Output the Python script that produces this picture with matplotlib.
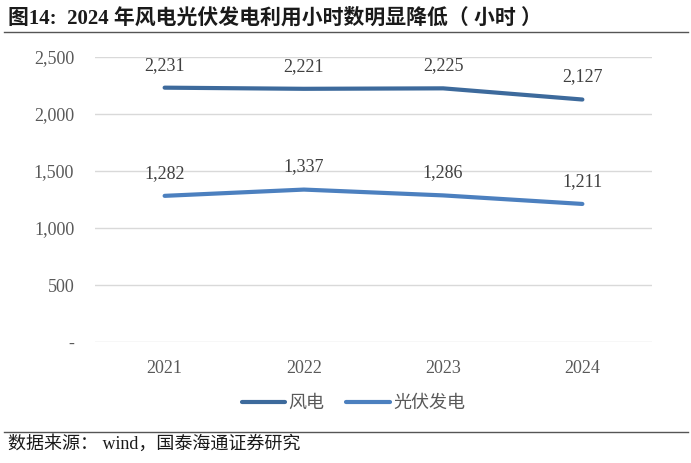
import matplotlib.pyplot as plt
from matplotlib.ticker import FuncFormatter

years = ['2021', '2022', '2023', '2024']
wind = [2231, 2221, 2225, 2127]
solar = [1282, 1337, 1286, 1211]

serif = ['Liberation Serif', 'Noto Sans CJK SC']

fig = plt.figure(figsize=(6.91, 4.63), dpi=100)
ax = fig.add_axes([95/691, 1 - 342/463, 557/691, 285/463])

x = range(len(years))
ax.plot(x, wind, color='#3D6A9C', lw=3, solid_capstyle='round', label='风电')
ax.plot(x, solar, color='#4C80BF', lw=3, solid_capstyle='round', label='光伏发电')

for series in (wind, solar):
    for xi, v in zip(x, series):
        ax.annotate(f'{v:,}', (xi, v), xytext=(0, 13), textcoords='offset points',
                    ha='center', fontsize=13, color='#404040', family=serif)

ax.set_xlim(-0.5, 3.5)
ax.set_ylim(0, 2500)
ax.set_yticks(range(0, 2501, 500))
ax.yaxis.set_major_formatter(FuncFormatter(lambda v, p: '-' if v == 0 else f'{int(v):,}'))
ax.set_xticks(list(x))
ax.set_xticklabels(years)
ax.grid(axis='y', color='#D9D9D9', lw=1)
ax.set_axisbelow(True)
for s in ax.spines.values():
    s.set_visible(False)
ax.tick_params(length=0, labelsize=13, labelcolor='#595959', pad=13)
ax.tick_params(axis='y', pad=15)
for lab in ax.get_xticklabels() + ax.get_yticklabels():
    lab.set_family(serif)

leg = ax.legend(loc='center', bbox_to_anchor=(0.464, -0.215), ncol=2, frameon=False,
                prop={'family': ['Noto Sans CJK SC'], 'size': 13}, handlelength=2.4,
                columnspacing=1.2, handletextpad=0.2)
for t in leg.get_texts():
    t.set_color('#595959')

fig.text(8/691, 1 - 18/463, '图14:  2024 年风电光伏发电利用小时数明显降低（ 小时 ）', fontsize=15,
         fontweight='bold', family=serif, va='center', color='#1a1a1a')
fig.add_artist(plt.Line2D([4/691, 688/691], [1 - 32/463, 1 - 32/463], color='#555555', lw=1))
fig.add_artist(plt.Line2D([4/691, 688/691], [1 - 432/463, 1 - 432/463], color='#555555', lw=1))
fig.text(8/691, 1 - 444/463, '数据来源： wind，国泰海通证券研究', fontsize=13,
         family=serif, va='center', color='#1a1a1a')

fig.savefig('out.png', dpi=100)
